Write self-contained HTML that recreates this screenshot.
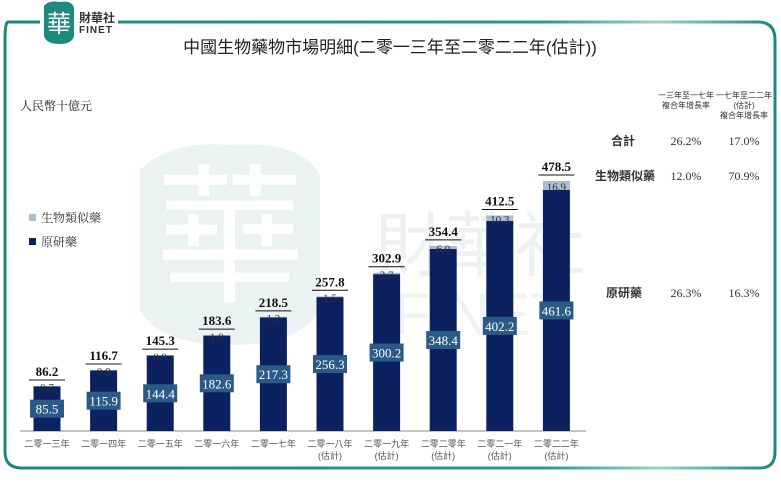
<!DOCTYPE html>
<html><head><meta charset="utf-8">
<style>
body{margin:0;background:#fff;}
svg text{font-family:"Liberation Serif","Noto Serif CJK SC",serif;}
.sans{font-family:"Liberation Sans","Noto Sans CJK TC",sans-serif !important;}
</style></head>
<body>
<svg width="781" height="479" viewBox="0 0 781 479" xmlns="http://www.w3.org/2000/svg">
<defs>
<linearGradient id="fr" x1="0" x2="1"><stop offset="0" stop-color="#1a8a80"/><stop offset="0.7" stop-color="#2a9a90"/><stop offset="0.85" stop-color="#9fd0cc"/><stop offset="1" stop-color="#1a8a80"/></linearGradient>
</defs>
<path d="M40,22 H8 Q5,22 5,40 V452 Q5,468 22,468 H760 Q775,468 775,452 V40 Q775,22 758,22 H118" fill="none" stroke="url(#fr)" stroke-width="3"/>
<g>
<path d="M44,6 Q48,0 60,2 Q72,0 74,8 L74,36 Q72,44 60,44 Q46,44 44,36 Z" fill="#1e8a7e"/>
<text x="59" y="32" font-size="24" fill="#fff" text-anchor="middle" class="sans">華</text>
<text x="79" y="22" font-size="12" fill="#333" class="sans" font-weight="bold">財華社</text>
<text x="79" y="33" font-size="10" fill="#333" class="sans" font-weight="bold" letter-spacing="1">FINET</text>
</g>
<g>
<path d="M140,170 Q170,140 230,145 Q300,140 320,175 L320,310 Q300,345 230,345 Q160,345 140,310 Z" fill="#eaf3f2"/>
<text x="230" y="290" font-size="150" fill="#fff" text-anchor="middle" class="sans">華</text>
<text x="480" y="270" font-size="70" fill="#eef1f1" class="sans" text-anchor="middle">財華社</text>
<text x="480" y="335" font-size="60" fill="#f1f3f3" class="sans" text-anchor="middle">FINET</text>
</g>
<text x="390" y="53" font-size="17" fill="#222" text-anchor="middle" class="sans">中國生物藥物市場明細(二零一三年至二零二二年(估計))</text>
<text x="20" y="110" font-size="12" fill="#222">人民幣十億元</text>
<rect x="29" y="214" width="7" height="7" fill="#a9bdd3"/>
<text x="41" y="222" font-size="12" fill="#333">生物類似藥</text>
<rect x="29" y="238" width="7" height="7" fill="#0c2260"/>
<text x="41" y="246" font-size="12" fill="#333">原研藥</text>
<g font-size="9" fill="#333">
<text x="686" y="98" text-anchor="middle" font-size="8" class="sans">一三年至一七年</text>
<text x="686" y="108" text-anchor="middle" font-size="8" class="sans">複合年增長率</text>
<text x="744" y="98" text-anchor="middle" font-size="8" class="sans">一七年至二二年</text>
<text x="744" y="108" text-anchor="middle" font-size="8" class="sans">(估計)</text>
<text x="744" y="118" text-anchor="middle" font-size="8" class="sans">複合年增長率</text>
<text x="635" y="145" text-anchor="end" font-size="12" class="sans" font-weight="bold">合計</text>
<text x="686" y="145" text-anchor="middle" font-size="12">26.2%</text>
<text x="744" y="145" text-anchor="middle" font-size="12">17.0%</text>
<text x="655" y="180" text-anchor="end" font-size="12" class="sans" font-weight="bold">生物類似藥</text>
<text x="686" y="180" text-anchor="middle" font-size="12">12.0%</text>
<text x="744" y="180" text-anchor="middle" font-size="12">70.9%</text>
<text x="642" y="297" text-anchor="end" font-size="12" class="sans" font-weight="bold">原研藥</text>
<text x="686" y="297" text-anchor="middle" font-size="12">26.3%</text>
<text x="744" y="297" text-anchor="middle" font-size="12">16.3%</text>
</g>
<line x1="20" y1="431" x2="586" y2="431" stroke="#888" stroke-width="1"/>
<g id="bars"></g>
</svg>
<script>
const categories=["二零一三年","二零一四年","二零一五年","二零一六年","二零一七年","二零一八年","二零一九年","二零二零年","二零二一年","二零二二年"];
const estimated=[false,false,false,false,false,true,true,true,true,true];
const innovative=[85.5,115.9,144.4,182.6,217.3,256.3,300.2,348.4,402.2,461.6];
const biosimilar=[0.7,0.8,0.9,1.0,1.2,1.5,2.7,6.0,10.3,16.9];
const totals=[86.2,116.7,145.3,183.6,218.5,257.8,302.9,354.4,412.5,478.5];
const base=431, scale=250/478.5, x0=47, step=56.6, bw=27;
const y=v=>base-v*scale, xc=i=>x0+i*step;
const ns="http://www.w3.org/2000/svg", g=document.getElementById('bars');
function mk(t,a,txt){const e=document.createElementNS(ns,t);for(const k in a)e.setAttribute(k,a[k]);if(txt!==undefined)e.textContent=txt;g.appendChild(e);return e;}
categories.forEach((c,i)=>{
  const x=xc(i), yi=y(innovative[i]), yt=y(innovative[i]+biosimilar[i]);
  let r=mk('rect',{x:x-bw/2,y:yi,width:bw,height:base-yi,fill:'#0c2260'});
  
  
  let b=mk('rect',{x:x-bw/2,y:yt,width:bw,height:Math.max(yi-yt,0.5),fill:'#a9bdd3'});
  
  
  const ym=(yi+base)/2;
  let bx=mk('rect',{x:x-17,y:ym-9,width:34,height:18,fill:'#2a5a88'});
  
  
  let t=mk('text',{x:x,y:ym+5,'font-size':13,fill:'#fff','text-anchor':'middle'},innovative[i].toFixed(1));
  
  
  let bt=mk('text',{x:x,y:(yt+yi)/2+5,'font-size':11,fill:'#333','text-anchor':'middle'},biosimilar[i].toFixed(1));
  
  
  let tt=mk('text',{x:x,y:yt-10,'font-size':13,'font-weight':'bold',fill:'#111','text-anchor':'middle'},totals[i].toFixed(1));
  
  
  let ul=mk('line',{x1:x-18,x2:x+18,y1:yt-6,y2:yt-6,stroke:'#111','stroke-width':1});
  
  
  let cl=mk('text',{x:x,y:447,'font-size':9,fill:'#555','text-anchor':'middle',class:'sans'},c);
  
  
  if(estimated[i]){let e=mk('text',{x:x,y:459,'font-size':9,fill:'#555','text-anchor':'middle',class:'sans'},'(估計)');
  
  }
});
</script>
</body></html>
